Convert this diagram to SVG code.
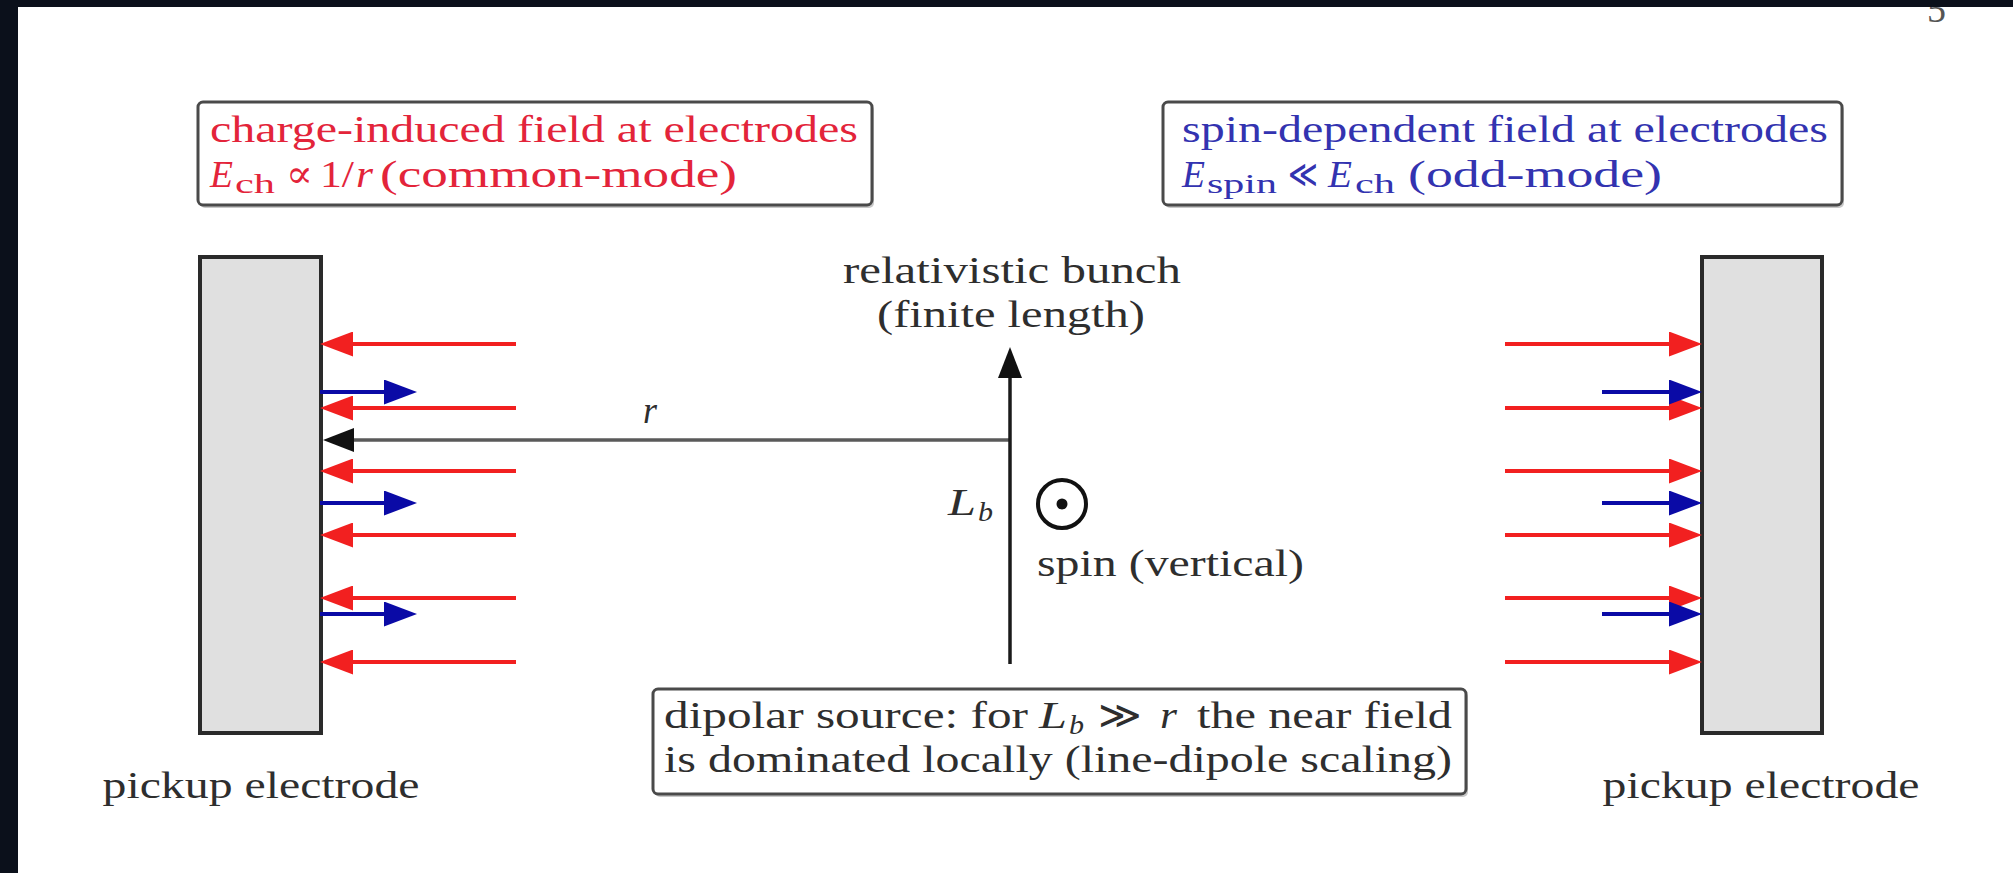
<svg xmlns="http://www.w3.org/2000/svg" width="2013" height="873" viewBox="0 0 2013 873">
<style>
.t{font-family:"Liberation Serif","DejaVu Serif",serif;font-size:38px;fill:#2e2e2e}
.it{font-style:italic}
.sub{font-size:27px}
.red{fill:#e3243a}
.blu{fill:#3333b0}
.box{fill:#ffffff;stroke:#4a4a4a;stroke-width:3}
.shadow{fill:#c8c8c8}
.elec{fill:#e0e0e0;stroke:#2a2a2a;stroke-width:4}
.ra{stroke:#f22020;stroke-width:4;fill:none;marker-end:url(#hr)}
.ba{stroke:#0a0aa6;stroke-width:4;fill:none;marker-end:url(#hb)}
</style>
<defs>
<marker id="hr" markerUnits="userSpaceOnUse" viewBox="0 0 33 25" markerWidth="33" markerHeight="25" refX="18" refY="12.5" orient="auto"><path d="M0,0 L33,12.5 L0,25 z" fill="#f22020"/></marker>
<marker id="hb" markerUnits="userSpaceOnUse" viewBox="0 0 33 25" markerWidth="33" markerHeight="25" refX="18" refY="12.5" orient="auto"><path d="M0,0 L33,12.5 L0,25 z" fill="#0a0aa6"/></marker>
<marker id="hk" markerUnits="userSpaceOnUse" viewBox="0 0 31 24" markerWidth="31" markerHeight="24" refX="16" refY="12" orient="auto"><path d="M0,0 L31,12 L0,24 z" fill="#111"/></marker>
</defs>
<rect x="0" y="0" width="2013" height="873" fill="#0b101b"/>
<rect x="18" y="7" width="1995" height="866" fill="#ffffff"/>
<text class="t" x="1927" y="22" fill="#555" style="fill:#555">5</text>
<rect x="18" y="0" width="1995" height="7" fill="#0b101b"/>

<g id="charge-box">
<rect class="shadow" x="200" y="105" width="674" height="103" rx="5"/>
<rect class="box" x="198" y="102" width="674" height="103" rx="5"/>
<text class="t red" x="210" y="142" textLength="648" lengthAdjust="spacingAndGlyphs">charge-induced field at electrodes</text>
<text class="t red it" x="210" y="187" textLength="23" lengthAdjust="spacingAndGlyphs">E</text>
<text class="t red sub" x="235" y="193" textLength="40" lengthAdjust="spacingAndGlyphs">ch</text>
<text class="t red" x="286" y="187" textLength="27" lengthAdjust="spacingAndGlyphs">∝</text>
<text class="t red" x="320" y="187" textLength="34" lengthAdjust="spacingAndGlyphs">1/</text>
<text class="t red it" x="356" y="187" textLength="17" lengthAdjust="spacingAndGlyphs">r</text>
<text class="t red" x="380" y="187" textLength="357" lengthAdjust="spacingAndGlyphs">(common-mode)</text>
</g>

<g id="spin-box">
<rect class="shadow" x="1165" y="105" width="679" height="103" rx="5"/>
<rect class="box" x="1163" y="102" width="679" height="103" rx="5"/>
<text class="t blu" x="1182" y="142" textLength="646" lengthAdjust="spacingAndGlyphs">spin-dependent field at electrodes</text>
<text class="t blu it" x="1182" y="187" textLength="23" lengthAdjust="spacingAndGlyphs">E</text>
<text class="t blu sub" x="1207" y="193" textLength="70" lengthAdjust="spacingAndGlyphs">spin</text>
<text class="t blu" x="1288" y="187" textLength="30" lengthAdjust="spacingAndGlyphs">≪</text>
<text class="t blu it" x="1328" y="187" textLength="24" lengthAdjust="spacingAndGlyphs">E</text>
<text class="t blu sub" x="1355" y="193" textLength="40" lengthAdjust="spacingAndGlyphs">ch</text>
<text class="t blu" x="1408" y="187" textLength="254" lengthAdjust="spacingAndGlyphs">(odd-mode)</text>
</g>

<g id="left-electrode">
<rect class="elec" x="200" y="257" width="121" height="476"/>
<text class="t" x="261" y="798" text-anchor="middle" textLength="317" lengthAdjust="spacingAndGlyphs">pickup electrode</text>
</g>

<g id="right-electrode">
<rect class="elec" x="1702" y="257" width="120" height="476"/>
<text class="t" x="1761" y="798" text-anchor="middle" textLength="317" lengthAdjust="spacingAndGlyphs">pickup electrode</text>
</g>

<g id="bunch">
<text class="t" x="1012" y="283" text-anchor="middle" textLength="338" lengthAdjust="spacingAndGlyphs">relativistic bunch</text>
<text class="t" x="1011" y="327" text-anchor="middle" textLength="268" lengthAdjust="spacingAndGlyphs">(finite length)</text>
<text class="t it" x="948" y="515" textLength="28" lengthAdjust="spacingAndGlyphs">L</text>
<text class="t it sub" x="978" y="521" textLength="15" lengthAdjust="spacingAndGlyphs">b</text>
</g>

<g id="spin">
<circle cx="1062" cy="504" r="24" fill="none" stroke="#111" stroke-width="4"/>
<circle cx="1062" cy="504" r="5.5" fill="#111"/>
<text class="t" x="1037" y="576" textLength="267" lengthAdjust="spacingAndGlyphs">spin (vertical)</text>
</g>

<g id="dipole-box">
<rect class="shadow" x="655" y="692" width="813" height="105" rx="5"/>
<rect class="box" x="653" y="689" width="813" height="105" rx="5"/>
<text class="t" x="664" y="728" textLength="364" lengthAdjust="spacingAndGlyphs">dipolar source: for</text>
<text class="t it" x="1039" y="728" textLength="28" lengthAdjust="spacingAndGlyphs">L</text>
<text class="t it sub" x="1069" y="734" textLength="15" lengthAdjust="spacingAndGlyphs">b</text>
<text class="t" x="1098" y="728" textLength="44" lengthAdjust="spacingAndGlyphs">≫</text>
<text class="t it" x="1160" y="728" textLength="17" lengthAdjust="spacingAndGlyphs">r</text>
<text class="t" x="1197" y="728" textLength="255" lengthAdjust="spacingAndGlyphs">the near field</text>
<text class="t" x="664" y="772" textLength="788" lengthAdjust="spacingAndGlyphs">is dominated locally (line-dipole scaling)</text>
</g>

<g id="connectors">
<line class="ra" x1="516" y1="344" x2="335" y2="344"/>
<line class="ra" x1="516" y1="408" x2="335" y2="408"/>
<line class="ra" x1="516" y1="471" x2="335" y2="471"/>
<line class="ra" x1="516" y1="535" x2="335" y2="535"/>
<line class="ra" x1="516" y1="598" x2="335" y2="598"/>
<line class="ra" x1="516" y1="662" x2="335" y2="662"/>
<line class="ba" x1="320" y1="392" x2="402" y2="392"/>
<line class="ba" x1="320" y1="503" x2="402" y2="503"/>
<line class="ba" x1="320" y1="614" x2="402" y2="614"/>
<line class="ra" x1="1505" y1="344" x2="1687" y2="344"/>
<line class="ra" x1="1505" y1="408" x2="1687" y2="408"/>
<line class="ra" x1="1505" y1="471" x2="1687" y2="471"/>
<line class="ra" x1="1505" y1="535" x2="1687" y2="535"/>
<line class="ra" x1="1505" y1="598" x2="1687" y2="598"/>
<line class="ra" x1="1505" y1="662" x2="1687" y2="662"/>
<line class="ba" x1="1602" y1="392" x2="1687" y2="392"/>
<line class="ba" x1="1602" y1="503" x2="1687" y2="503"/>
<line class="ba" x1="1602" y1="614" x2="1687" y2="614"/>
<line x1="1010" y1="440" x2="338" y2="440" stroke="#5a5a5a" stroke-width="3.5" marker-end="url(#hk)"/>
<line x1="1010" y1="664" x2="1010" y2="362" stroke="#1a1a1a" stroke-width="3.5" marker-end="url(#hk)"/>
<text class="t it" x="643" y="423" textLength="14" lengthAdjust="spacingAndGlyphs">r</text>
</g>
</svg>
